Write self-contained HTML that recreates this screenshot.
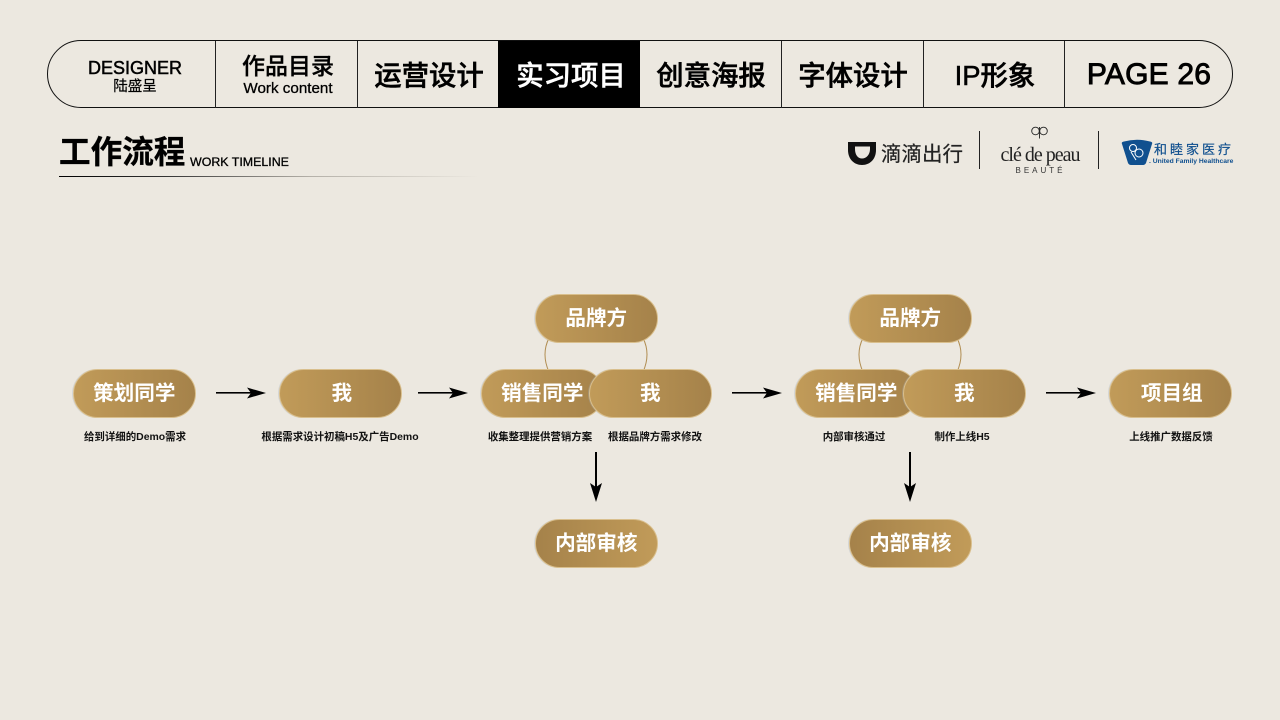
<!DOCTYPE html>
<html><head><meta charset="utf-8">
<style>
html,body{margin:0;padding:0}
body{width:1280px;height:720px;background:#ece8e0;position:relative;overflow:hidden;font-family:"Liberation Sans","Noto Sans CJK SC",sans-serif;color:#000}
.a{position:absolute;white-space:nowrap}
.c{text-align:center;transform:translateX(-50%)}
.nav{left:47px;top:40px;width:1184px;height:66px;border:1.5px solid #111;border-radius:34.5px;box-sizing:content-box}
.div{position:absolute;top:41px;height:67px;width:1px;background:#222}
.tab{position:absolute;top:58.5px;font-size:27.4px;line-height:34px;font-weight:500;transform:translateX(-50%);white-space:nowrap;-webkit-text-stroke:.5px currentColor}
.pill{position:absolute;width:122.5px;height:48.5px;border-radius:25px;box-sizing:border-box;background:linear-gradient(90deg,#c19b59,#a5824a);border:1px solid #d9bf8d;box-shadow:-1px 0 0 rgba(170,180,195,.35);color:#fff;font-size:20.6px;font-weight:700;text-align:center;line-height:48px}
.pill.r{background:linear-gradient(90deg,#a5824a,#c19b59)}
.cap{position:absolute;top:431px;font-size:10.45px;line-height:14px;font-weight:700;transform:translateX(-50%);white-space:nowrap;color:#111}
</style></head><body>
<div class="a nav"></div>
<div class="a" style="left:498px;top:41px;width:142px;height:67px;background:#000"></div>
<div class="div" style="left:215px"></div>
<div class="div" style="left:357px"></div>
<div class="div" style="left:781px"></div>
<div class="div" style="left:923px"></div>
<div class="div" style="left:1064px"></div>

<div class="a c" style="left:135px;top:58px;font-size:18px;line-height:20px;-webkit-text-stroke:.5px #000">DESIGNER</div>
<div class="a c" style="left:135px;top:78.5px;font-size:14.5px;line-height:17px;-webkit-text-stroke:.2px #000">陆盛呈</div>
<div class="a c" style="left:288px;top:52px;font-size:23px;line-height:29px;font-weight:500;-webkit-text-stroke:.3px #000">作品目录</div>
<div class="a c" style="left:288px;top:81px;font-size:15.2px;line-height:16px;-webkit-text-stroke:.3px #000">Work content</div>
<div class="tab" style="left:429px">运营设计</div>
<div class="tab" style="left:571px;color:#fff">实习项目</div>
<div class="tab" style="left:711px">创意海报</div>
<div class="tab" style="left:853px">字体设计</div>
<div class="tab" style="left:995px">IP形象</div>
<div class="tab" style="left:1149px;top:58px;font-size:30px;letter-spacing:.2px;-webkit-text-stroke:.9px #000">PAGE 26</div>

<div class="a" style="left:59px;top:131px;font-size:31.6px;line-height:42px;font-weight:700;-webkit-text-stroke:.3px #000">工作流程</div>
<div class="a" style="left:190px;top:155px;font-size:12.4px;line-height:15px;-webkit-text-stroke:.3px #000">WORK TIMELINE</div>
<div class="a" style="left:59px;top:176px;width:420px;height:1px;background:linear-gradient(90deg,#000 0%,#333 25%,#b5b1a9 60%,#ece8e0 100%)"></div>

<svg class="a" style="left:0;top:0" width="1280" height="720" viewBox="0 0 1280 720">
  <path d="M848 142H876V150C876 159 870 165 862 165C854 165 848 159 848 150Z" fill="#111"/>
  <path d="M855 146.500H870V149C870 155 866 158.500 862 158.500C858 158.500 855 155 855 149Z" fill="#ece8e0"/>
  <rect x="979" y="131" width="1" height="38" fill="#222"/>
  <rect x="1098" y="131" width="1" height="38" fill="#222"/>
  <path d="M1122 144Q1121 142 1124 141.500Q1137 138 1150 141.500Q1153 142 1152 144L1146 163Q1145 165 1143 165H1131Q1129 165 1128 163Z" fill="#10508f"/>
  <circle cx="1133" cy="148" r="3.500" fill="none" stroke="#fff" stroke-width="1"/>
  <circle cx="1139" cy="153" r="4" fill="none" stroke="#fff" stroke-width="1"/>
  <path d="M1131 152L1136 160" fill="none" stroke="#fff" stroke-width="1"/>
  <circle cx="1035.500" cy="131" r="3.800" fill="none" stroke="#222" stroke-width=".9"/>
  <circle cx="1043.500" cy="131" r="3.800" fill="none" stroke="#222" stroke-width=".9"/>
  <line x1="1039.500" y1="127" x2="1039.500" y2="138.500" stroke="#222" stroke-width=".9"/>
  <path d="M549 338Q541 354 549 372" fill="none" stroke="#b08c50" stroke-width="1"/>
  <path d="M643 338Q651 354 643 372" fill="none" stroke="#b08c50" stroke-width="1"/>
  <path d="M863 338Q855 354 863 372" fill="none" stroke="#b08c50" stroke-width="1"/>
  <path d="M957 338Q965 354 957 372" fill="none" stroke="#b08c50" stroke-width="1"/>
  <g fill="#000" stroke="none">
    <rect x="216" y="392" width="36" height="1.600"/><path d="M266 393L247 387.500L251 393L247 398.500Z"/>
    <rect x="418" y="392" width="36" height="1.600"/><path d="M468 393L449 387.500L453 393L449 398.500Z"/>
    <rect x="732" y="392" width="36" height="1.600"/><path d="M782 393L763 387.500L767 393L763 398.500Z"/>
    <rect x="1046" y="392" width="36" height="1.600"/><path d="M1096 393L1077 387.500L1081 393L1077 398.500Z"/>
    <rect x="595" y="452" width="2" height="36"/><path d="M596 502L590 483L596 487L602 483Z"/>
    <rect x="909" y="452" width="2" height="36"/><path d="M910 502L904 483L910 487L916 483Z"/>
  </g>
</svg>

<div class="a" style="left:881px;top:142px;font-size:20.5px;line-height:26px;color:#222;-webkit-text-stroke:.2px #222">滴滴出行</div>
<div class="a c" style="left:1040px;top:142px;font-family:'Liberation Serif','Noto Serif CJK SC',serif;font-size:20px;line-height:26px;color:#222;letter-spacing:-1px">clé de peau</div>
<div class="a c" style="left:1040.500px;top:166px;font-size:8px;line-height:10px;letter-spacing:3px;color:#333">BEAUTÉ</div>
<div class="a" style="left:1154px;top:141px;font-size:13px;line-height:18px;color:#10508f;letter-spacing:3px;-webkit-text-stroke:.2px #10508f">和睦家医疗</div>
<div class="a" style="left:1149px;top:157px;font-size:6.75px;line-height:9px;font-weight:700;color:#10508f">. United Family Healthcare</div>

<div class="pill" style="left:73px;top:369px">策划同学</div>
<div class="pill" style="left:279px;top:369px;text-indent:3px">我</div>
<div class="pill" style="left:481px;top:369px">销售同学</div>
<div class="pill" style="left:589px;top:369px">我</div>
<div class="pill" style="left:795px;top:369px">销售同学</div>
<div class="pill" style="left:903px;top:369px">我</div>
<div class="pill" style="left:1109px;top:369px;text-indent:3px">项目组</div>
<div class="pill" style="left:535px;top:294px">品牌方</div>
<div class="pill" style="left:849px;top:294px">品牌方</div>
<div class="pill r" style="left:535px;top:519px">内部审核</div>
<div class="pill r" style="left:849px;top:519px">内部审核</div>

<div class="cap" style="left:135px">给到详细的Demo需求</div>
<div class="cap" style="left:340px">根据需求设计初稿H5及广告Demo</div>
<div class="cap" style="left:540px">收集整理提供营销方案</div>
<div class="cap" style="left:655px">根据品牌方需求修改</div>
<div class="cap" style="left:854px">内部审核通过</div>
<div class="cap" style="left:962px">制作上线H5</div>
<div class="cap" style="left:1171px">上线推广数据反馈</div>
</body></html>
